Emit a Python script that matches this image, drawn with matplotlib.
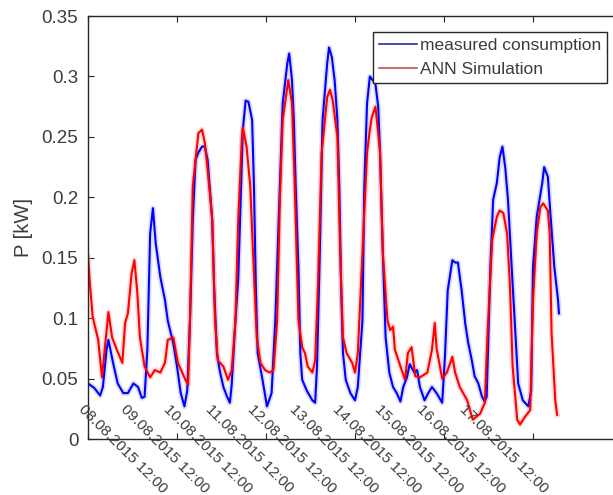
import matplotlib
matplotlib.use("Agg")
import matplotlib.pyplot as plt
import matplotlib.transforms as mtransforms
from matplotlib.ticker import FormatStrFormatter

# hours since 08.08.2015 00:00 -> power in kW
meas_h = [0, 3.5, 6.5, 8, 10, 11, 13.5, 16, 19, 21.5, 24.5, 27, 29, 30.5, 32, 33.5, 35, 36.5, 39,
          41.5, 43, 46, 48, 50, 52, 53.5, 55, 56.5, 58, 59.5, 61.5, 63, 64.5, 67, 68, 69.5, 71, 73,
          75, 76.5, 77.5, 79.5, 81, 82, 83.5, 85, 86.5, 88.5, 89.5, 90.5, 91.5, 94, 96.5, 99, 101,
          103.5, 105, 107.5, 108.5, 110, 111, 112, 113.5, 114.5, 115.5, 118, 121, 122.5, 123.5, 125,
          126.5, 129, 130, 131.5, 133, 134.5, 135.5, 136.5, 137.5, 139, 141.5, 144, 145.5, 148, 149,
          150.5, 152, 153.5, 155, 156.5, 157.5, 159, 160.5, 162.5, 164.5, 166.5, 168.5, 170, 172,
          173.5, 176, 177.5, 179, 181.5, 183.5, 185.5, 188, 191, 192.5, 194, 196.5, 198, 199.5,
          201.5, 203.5, 205, 207, 208.5, 210.5, 212.5, 214, 215, 217, 218.5, 220.5, 222, 223.5, 225,
          226.5, 228.5, 230.5, 232, 234.5, 237.5, 239, 240, 242, 245, 246, 248, 249.5, 251.5, 253.5, 254]
meas_kw = [0.046, 0.042, 0.036, 0.043, 0.074, 0.082, 0.063, 0.046, 0.038, 0.038, 0.046, 0.043, 0.034,
           0.035, 0.074, 0.170, 0.191, 0.162, 0.134, 0.115, 0.098, 0.079, 0.060, 0.038, 0.027, 0.040,
           0.098, 0.181, 0.231, 0.237, 0.242, 0.242, 0.231, 0.181, 0.126, 0.071, 0.057, 0.043, 0.035,
           0.030, 0.045, 0.098, 0.132, 0.181, 0.256, 0.280, 0.279, 0.264, 0.209, 0.126, 0.071, 0.050,
           0.027, 0.038, 0.098, 0.209, 0.278, 0.311, 0.319, 0.297, 0.264, 0.209, 0.140, 0.071, 0.049,
           0.040, 0.032, 0.030, 0.060, 0.154, 0.264, 0.311, 0.324, 0.316, 0.297, 0.264, 0.209, 0.126,
           0.071, 0.049, 0.038, 0.032, 0.043, 0.098, 0.209, 0.278, 0.300, 0.297, 0.294, 0.275, 0.237,
           0.154, 0.084, 0.055, 0.043, 0.038, 0.031, 0.043, 0.051, 0.062, 0.055, 0.057, 0.043, 0.032,
           0.038, 0.043, 0.038, 0.030, 0.068, 0.123, 0.148, 0.146, 0.146, 0.123, 0.095, 0.080, 0.065,
           0.052, 0.046, 0.035, 0.031, 0.035, 0.142, 0.198, 0.212, 0.233, 0.242, 0.225, 0.198, 0.142,
           0.088, 0.046, 0.032, 0.027, 0.040, 0.142, 0.184, 0.212, 0.225, 0.217, 0.184, 0.142, 0.115, 0.104]

ann_h = [0, 1, 2.5, 5.5, 7.5, 9, 11, 13, 15.5, 18.5, 20, 21.5, 23.5, 25, 26.5, 28, 30.5, 33.5, 36, 39,
         41.5, 43, 46, 48.5, 52.5, 54, 55, 56.5, 59.5, 61.5, 63, 64.5, 67, 68.5, 70, 73, 75.5, 77.5,
         79.5, 81, 83, 83.5, 85.5, 87.5, 89, 91, 93, 95.5, 98, 100, 102, 103.5, 105, 108, 110, 111.5,
         113.5, 115.5, 117, 118.5, 121, 122.5, 124, 126, 129, 130.5, 132, 134.5, 136, 137.5, 139.5,
         142.5, 144, 145.5, 148, 150.5, 152, 153, 155, 156.5, 157.5, 159, 161.5, 163, 164.5, 165.5,
         168.5, 171, 172.5, 174.5, 176.5, 179, 183, 185.5, 187, 188, 191, 193.5, 196.5, 198, 200.5,
         204.5, 207.5, 211.5, 214, 215.5, 218, 220.5, 222, 224, 226, 227.5, 229, 231.5, 233, 235.5,
         238.5, 240, 242, 244, 245.5, 248, 249, 250, 252, 253]
ann_kw = [0.151, 0.129, 0.101, 0.082, 0.051, 0.074, 0.105, 0.084, 0.074, 0.063, 0.096, 0.104, 0.137,
          0.148, 0.123, 0.084, 0.060, 0.051, 0.057, 0.055, 0.063, 0.082, 0.084, 0.063, 0.049, 0.045,
          0.100, 0.209, 0.253, 0.256, 0.245, 0.223, 0.181, 0.098, 0.065, 0.060, 0.049, 0.057, 0.098,
          0.181, 0.250, 0.258, 0.242, 0.209, 0.154, 0.084, 0.063, 0.057, 0.055, 0.057, 0.098, 0.200,
          0.264, 0.297, 0.278, 0.209, 0.098, 0.076, 0.071, 0.060, 0.055, 0.065, 0.126, 0.237, 0.283,
          0.289, 0.280, 0.250, 0.154, 0.084, 0.071, 0.063, 0.055, 0.071, 0.154, 0.237, 0.256, 0.266,
          0.275, 0.253, 0.237, 0.154, 0.098, 0.090, 0.093, 0.074, 0.060, 0.049, 0.071, 0.076, 0.052,
          0.051, 0.055, 0.074, 0.096, 0.075, 0.050, 0.055, 0.068, 0.055, 0.043, 0.032, 0.016, 0.021,
          0.030, 0.088, 0.165, 0.184, 0.189, 0.187, 0.170, 0.129, 0.060, 0.016, 0.012, 0.018, 0.024,
          0.115, 0.170, 0.192, 0.195, 0.189, 0.170, 0.088, 0.032, 0.020]

day_labels = ["08.08.2015 12:00", "09.08.2015 12:00", "10.08.2015 12:00", "11.08.2015 12:00",
              "12.08.2015 12:00", "13.08.2015 12:00", "14.08.2015 12:00", "15.08.2015 12:00",
              "16.08.2015 12:00", "17.08.2015 12:00"]
yticks = [0, 0.05, 0.1, 0.15, 0.2, 0.25, 0.3, 0.35]

plt.rcParams['font.family'] = ['Liberation Sans', 'DejaVu Sans']
txt = '#3c3c3c'
spine = '#262626'

fig = plt.figure(figsize=(6.13, 4.95), dpi=100)
# the right edge of the axes sits past the figure border, as in the original
ax = fig.add_axes([0.1436, 0.1131, 0.8711, 0.8545])

# pale halo under each curve, then the curve itself
ax.plot(meas_h, meas_kw, color='#a8acec', lw=4.0, alpha=0.4, solid_joinstyle='round')
ax.plot(ann_h, ann_kw, color='#f2a8a8', lw=4.0, alpha=0.4, solid_joinstyle='round')
l1, = ax.plot(meas_h, meas_kw, color='#0000ff', lw=1.5)
l2, = ax.plot(ann_h, ann_kw, color='#ff0000', lw=1.5)

ax.set_xlim(0, 288)
ax.set_ylim(0, 0.35)
ax.set_xticks(range(0, 289, 48))
ax.set_xticklabels([])
ax.set_yticks(yticks)
ax.yaxis.set_major_formatter(FormatStrFormatter('%g'))
ax.tick_params(axis='x', direction='in', length=4, top=True, bottom=True, color=spine)
ax.tick_params(axis='y', direction='in', length=4, left=True, right=False,
               labelsize=13.5, labelcolor=txt, pad=7, color=spine)
for s in ax.spines.values():
    s.set_color(spine)
    s.set_linewidth(1.0)

ax.set_ylabel('P [kW]', fontsize=14.5, color=txt, labelpad=6)

# rotated day labels drawn inside the lower edge of the axes
trans = mtransforms.blended_transform_factory(ax.transData, ax.transAxes)
for k, lab in enumerate(day_labels):
    ax.text(-6.5 + 22.8 * k, 0.0875, lab, rotation=-45, ha='left', va='top',
            fontsize=11, color=txt, transform=trans, clip_on=False)

leg = ax.legend([l1, l2], ['measured consumption', 'ANN Simulation'],
                loc='upper right', bbox_to_anchor=(607 / 613, 1 - 32 / 495),
                bbox_transform=fig.transFigure, borderaxespad=0, fontsize=12.5,
                frameon=True, fancybox=False, framealpha=1, edgecolor=spine,
                handlelength=2.2, handletextpad=0.15, labelspacing=0.5, borderpad=0.35)
leg.get_frame().set_linewidth(1.0)
for t in leg.get_texts():
    t.set_color(txt)
leg.get_lines()[0].set_color('#2a2aa8')
leg.get_lines()[1].set_color('#c05050')
for ln in leg.get_lines():
    ln.set_linewidth(1.2)

fig.savefig('out.png', dpi=100)
